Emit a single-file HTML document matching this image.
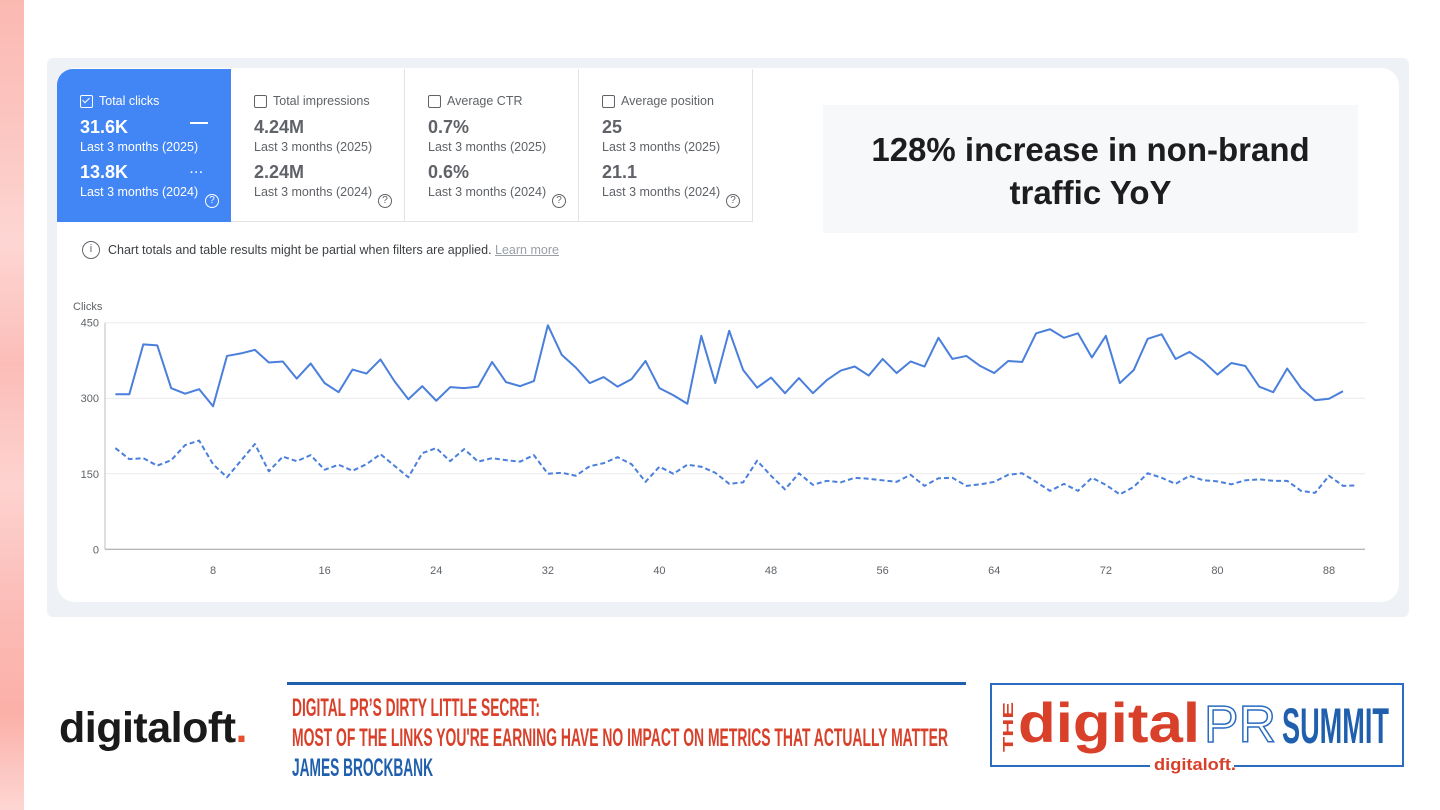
<!DOCTYPE html>
<html><head><meta charset="utf-8">
<style>
*{box-sizing:border-box;margin:0;padding:0}
body{width:1440px;height:810px;background:#fff;position:relative;overflow:hidden;font-family:"Liberation Sans",Arial,sans-serif}
.abs{position:absolute}
.strip{left:0;top:0;width:24px;height:810px;background:linear-gradient(180deg,#fbb9b2 0%,#fcc5c0 15%,#fdd6d3 30%,#fcbdb8 45%,#fdd3d0 60%,#fcbcb7 75%,#fbb0a8 88%,#fdd6d3 100%)}
.panel{left:47px;top:58px;width:1362px;height:559px;background:#eef2f7;border-radius:6px}
.card{left:57px;top:68px;width:1342px;height:534px;background:#fff;border-radius:18px}
.metric{top:69px;height:153px;width:174px;border-right:1px solid #e3e3e3;border-bottom:1px solid #e3e3e3;color:#5f6368}
.metric.sel{background:#4285f4;color:#fff;border-top-left-radius:16px;border:none}
.metric .lbl{position:absolute;left:23px;top:25px;font-size:12.5px;display:flex;align-items:center}
.cb{width:13px;height:13px;border:1.5px solid currentColor;border-radius:2px;margin-right:6px;position:relative}
.metric .v{position:absolute;left:23px;font-size:18px;font-weight:bold}
.metric .s{position:absolute;left:23px;font-size:12.5px}
.q{position:absolute;right:12px;top:125px;width:14px;height:14px;border:1px solid currentColor;border-radius:50%;font-size:10px;text-align:center;line-height:12px}
.callout{left:823px;top:105px;width:535px;height:128px;background:#f7f8fa;text-align:center;font-size:33px;font-weight:bold;color:#1d1d1f;padding-top:23px;line-height:43px}
</style></head><body>
<div class="abs strip"></div>
<div class="abs panel"></div>
<div class="abs card"></div>

<div class="abs metric sel" style="left:57px">
 <div class="lbl"><span class="cb" style="border-color:#fff"><span style="position:absolute;left:3px;top:0px;width:4px;height:7px;border-right:1.5px solid #fff;border-bottom:1.5px solid #fff;transform:rotate(45deg)"></span></span>Total clicks</div>
 <div class="v" style="top:48px">31.6K</div><div class="abs" style="left:133px;top:53px;width:18px;height:2px;background:#fff"></div>
 <div class="s" style="top:71px">Last 3 months (2025)</div>
 <div class="v" style="top:93px">13.8K</div><div class="abs" style="left:133px;top:98px;font-size:11px;font-weight:bold;letter-spacing:1px">···</div>
 <div class="s" style="top:116px">Last 3 months (2024)</div><div class="q">?</div>
</div>
<div class="abs metric" style="left:231px">
 <div class="lbl"><span class="cb"></span>Total impressions</div>
 <div class="v" style="top:48px">4.24M</div><div class="s" style="top:71px">Last 3 months (2025)</div>
 <div class="v" style="top:93px">2.24M</div><div class="s" style="top:116px">Last 3 months (2024)</div><div class="q">?</div>
</div>
<div class="abs metric" style="left:405px">
 <div class="lbl"><span class="cb"></span>Average CTR</div>
 <div class="v" style="top:48px">0.7%</div><div class="s" style="top:71px">Last 3 months (2025)</div>
 <div class="v" style="top:93px">0.6%</div><div class="s" style="top:116px">Last 3 months (2024)</div><div class="q">?</div>
</div>
<div class="abs metric" style="left:579px">
 <div class="lbl"><span class="cb"></span>Average position</div>
 <div class="v" style="top:48px">25</div><div class="s" style="top:71px">Last 3 months (2025)</div>
 <div class="v" style="top:93px">21.1</div><div class="s" style="top:116px">Last 3 months (2024)</div><div class="q">?</div>
</div>

<div class="abs callout">128% increase in non-brand<br>traffic YoY</div>

<div class="abs" style="left:82px;top:241px;font-size:12.5px;color:#3c4043;display:flex;align-items:center">
 <span style="width:18px;height:18px;border:1.5px solid #5f6368;border-radius:50%;font-size:11px;text-align:center;line-height:15px;margin-right:8px;color:#5f6368">i</span>
 Chart totals and table results might be partial when filters are applied.&nbsp;<span style="color:#9aa0a6;text-decoration:underline">Learn more</span>
</div>

<svg class="abs" style="left:0;top:0" width="1440" height="810" id="chart"></svg>

<div class="abs" style="left:59px;top:704px;font-size:43px;font-weight:bold;color:#1a1a1a;letter-spacing:-0.5px">digitaloft<span style="color:#e8502d">.</span></div>

<div class="abs" style="left:287px;top:682px;width:679px;height:3px;background:#1f5fae"></div>
<svg class="abs" style="left:0;top:0" width="1440" height="810">
 <g font-family="Liberation Sans Narrow, Liberation Sans, sans-serif" font-weight="bold" font-size="25">
  <text x="292" y="716" fill="#d8402a" textLength="248" lengthAdjust="spacingAndGlyphs">DIGITAL PR’S DIRTY LITTLE SECRET:</text>
  <text x="292" y="746" fill="#d8402a" textLength="656" lengthAdjust="spacingAndGlyphs">MOST OF THE LINKS YOU'RE EARNING HAVE NO IMPACT ON METRICS THAT ACTUALLY MATTER</text>
  <text x="292" y="776" fill="#1f5fae" textLength="141" lengthAdjust="spacingAndGlyphs">JAMES BROCKBANK</text>
 </g>
 <g>
  <path d="M1150 766 H991 V684 H1403 V766 H1234" fill="none" stroke="#2a6cc0" stroke-width="2"/>
  <text transform="translate(1013,752) rotate(-90)" font-family="Liberation Sans, sans-serif" font-weight="bold" font-size="15" fill="#d8402a" textLength="50" lengthAdjust="spacingAndGlyphs">THE</text>
  <text x="1018" y="742" font-family="Liberation Sans, sans-serif" font-weight="bold" font-size="56" fill="#d8402a" textLength="182" lengthAdjust="spacingAndGlyphs">digital</text>
  <text x="1204" y="742" font-family="Liberation Sans, sans-serif" font-size="52" fill="#fff" stroke="#2a6cc0" stroke-width="1.5" textLength="72" lengthAdjust="spacingAndGlyphs">PR</text>
  <text x="1282" y="743" font-family="Liberation Sans Narrow, Liberation Sans, sans-serif" font-weight="bold" font-size="50" fill="#1f5fae" textLength="107" lengthAdjust="spacingAndGlyphs">SUMMIT</text>
  <text x="1154" y="770" font-family="Liberation Sans, sans-serif" font-weight="bold" font-size="17" fill="#d8402a" textLength="82" lengthAdjust="spacingAndGlyphs">digitaloft.</text>
 </g>
</svg>

<script>
const days2025 = Array.from({length:89},(_, i)=>i+1);
const clicks2025 = [308,308,407,405,320,309,318,284,384,389,396,371,373,339,369,330,312,357,349,377,334,298,324,295,322,320,323,372,332,324,334,445,386,361,330,342,323,338,374,320,306,289,424,330,434,356,321,341,310,340,310,336,355,363,345,378,350,373,363,420,378,384,364,350,374,372,429,437,420,429,381,424,330,356,418,427,378,392,373,347,370,364,323,312,359,320,296,299,314];
const clicks2024 = [201,179,181,166,177,207,216,169,143,176,209,155,184,175,187,158,168,156,169,189,166,143,191,201,175,199,174,181,177,174,187,150,152,146,165,171,183,169,134,164,150,168,164,152,130,133,176,146,119,151,128,136,133,142,140,137,134,148,126,141,142,126,129,134,148,151,134,116,130,116,142,128,109,124,151,142,130,146,137,135,129,137,139,136,136,116,112,146,126,127];
const yTicks = [0,150,300,450];
const xTicks = [8,16,24,32,40,48,56,64,72,80,88];

const svg = document.getElementById('chart');
const NS='http://www.w3.org/2000/svg';
const X0=105, X1=1365, Y0=549.3, Y1=322.7, YMAX=450;
const xs = d => 115.4 + (d-1)*13.95;
const ys = v => Y0 - (v/YMAX)*(Y0-Y1);
function mk(tag, attrs){const e=document.createElementNS(NS,tag);for(const k in attrs)e.setAttribute(k,attrs[k]);svg.appendChild(e);return e;}

yTicks.forEach(t=>{
  const g=mk('line',{x1:X0,x2:X1,y1:ys(t),y2:ys(t),stroke:t===0?'#9e9e9e':'#ececec','stroke-width':1});
  
  
  const l=mk('text',{x:99,y:ys(t)+4,'text-anchor':'end','font-size':11,fill:'#5f6368','font-family':'Liberation Sans, sans-serif'});
  l.textContent=t;
  
  
});
const ya=mk('line',{x1:X0,x2:X0,y1:Y1,y2:Y0,stroke:'#bdbdbd','stroke-width':1});


const yt=mk('text',{x:73,y:310,'font-size':11,fill:'#5f6368','font-family':'Liberation Sans, sans-serif'});
yt.textContent='Clicks';


xTicks.forEach(t=>{
  const l=mk('text',{x:xs(t),y:574,'text-anchor':'middle','font-size':11,fill:'#5f6368','font-family':'Liberation Sans, sans-serif'});
  l.textContent=t;
  
  
});
const p24=mk('polyline',{points:clicks2024.map((v,i)=>xs(i+1)+','+ys(v)).join(' '),fill:'none',stroke:'#4a7fdb','stroke-width':2,'stroke-dasharray':'5,3','stroke-linejoin':'round'});


const p25=mk('polyline',{points:clicks2025.map((v,i)=>xs(days2025[i])+','+ys(v)).join(' '),fill:'none',stroke:'#4a7fdb','stroke-width':2,'stroke-linejoin':'round'});


</script>
</body></html>
